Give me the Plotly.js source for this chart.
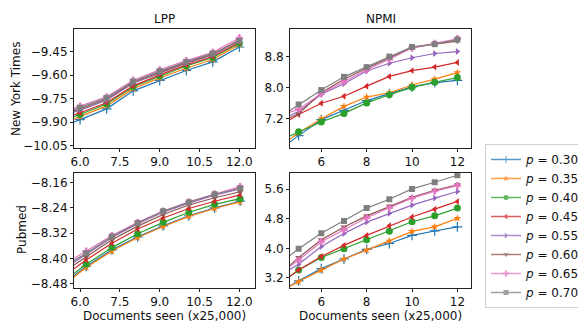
<!DOCTYPE html>
<html><head><meta charset="utf-8">
<script src="https://cdn.plot.ly/plotly-3.0.1.min.js"></script>
<style>html,body{margin:0;padding:0;background:#fff}#chart{width:578px;height:322px}</style>
</head><body><div id="chart"></div>
<script>
// ---- data ----
const pLabels = ['0.30','0.35','0.40','0.45','0.55','0.60','0.65','0.70'];
const xInt = [4,5,6,7,8,9,10,11,12];
const xPubLPP = [4.3,5.27,6.23,7.2,8.17,9.13,10.1,11.07,12.03];
const xTicksLPP = [6.0,7.5,9.0,10.5,12.0];
const xTicksNPMI = [6,8,10,12];
const yTicksNytLPP = [-9.45,-9.60,-9.75,-9.90,-10.05];
const yTicksNytNPMI = [7.2,8.0,8.8];
const yTicksPubLPP = [-8.16,-8.24,-8.32,-8.40,-8.48];
const yTicksPubNPMI = [3.2,4.0,4.8,5.6];

// New York Times, LPP (rows follow pLabels)
const nytLPP = [
  [-10.03,-9.95,-9.884,-9.815,-9.700,-9.633,-9.570,-9.515,-9.420],
  [-10.01,-9.93,-9.865,-9.796,-9.686,-9.618,-9.556,-9.500,-9.405],
  [-9.99,-9.91,-9.851,-9.784,-9.674,-9.605,-9.541,-9.487,-9.396],
  [-9.98,-9.90,-9.840,-9.776,-9.668,-9.598,-9.534,-9.481,-9.390],
  [-9.96,-9.88,-9.823,-9.760,-9.651,-9.586,-9.524,-9.470,-9.378],
  [-9.95,-9.87,-9.816,-9.752,-9.645,-9.580,-9.520,-9.466,-9.375],
  [-9.93,-9.85,-9.798,-9.738,-9.632,-9.566,-9.507,-9.454,-9.362],
  [-9.94,-9.86,-9.807,-9.745,-9.640,-9.574,-9.515,-9.461,-9.382]
];
// New York Times, NPMI
const nytNPMI = [
  [6.35,6.77,7.18,7.42,7.67,7.85,8.02,8.13,8.19],
  [6.41,6.84,7.20,7.52,7.76,7.87,8.07,8.22,8.39],
  [6.60,6.87,7.12,7.34,7.61,7.82,8.01,8.14,8.26],
  [6.97,7.31,7.60,7.78,8.04,8.29,8.44,8.53,8.65],
  [7.14,7.38,7.83,8.10,8.43,8.63,8.77,8.88,8.93],
  [7.07,7.33,7.87,8.22,8.50,8.77,9.03,9.12,9.20],
  [7.27,7.44,7.85,8.16,8.46,8.73,9.02,9.14,9.26],
  [7.18,7.57,7.94,8.28,8.53,8.80,9.05,9.12,9.24]
];
// Pubmed, LPP
const pubLPP = [
  [-8.58,-8.488,-8.425,-8.373,-8.332,-8.297,-8.265,-8.240,-8.219],
  [-8.59,-8.492,-8.429,-8.377,-8.334,-8.299,-8.267,-8.242,-8.221],
  [-8.57,-8.480,-8.419,-8.366,-8.322,-8.286,-8.254,-8.229,-8.211],
  [-8.55,-8.463,-8.405,-8.352,-8.307,-8.272,-8.242,-8.219,-8.199],
  [-8.52,-8.440,-8.387,-8.334,-8.290,-8.254,-8.225,-8.200,-8.180],
  [-8.53,-8.450,-8.395,-8.341,-8.298,-8.261,-8.231,-8.208,-8.189],
  [-8.50,-8.425,-8.377,-8.328,-8.286,-8.250,-8.221,-8.196,-8.173],
  [-8.51,-8.432,-8.384,-8.331,-8.288,-8.251,-8.222,-8.197,-8.178]
];
// Pubmed, NPMI
const pubNPMI = [
  [2.76,3.12,3.45,3.71,3.97,4.13,4.35,4.47,4.58],
  [2.76,3.10,3.41,3.71,3.95,4.20,4.46,4.58,4.81],
  [2.95,3.41,3.75,3.99,4.23,4.46,4.72,4.88,5.09],
  [2.98,3.41,3.78,4.08,4.35,4.61,4.85,5.06,5.27],
  [3.21,3.57,4.05,4.40,4.71,4.95,5.17,5.36,5.54],
  [3.20,3.75,4.23,4.58,4.88,5.14,5.38,5.57,5.72],
  [3.25,3.68,4.18,4.50,4.83,5.10,5.36,5.55,5.70],
  [3.51,3.99,4.41,4.74,5.09,5.33,5.61,5.79,5.98]
];

// ---- styling ----
const colors = ['#1f77b4','#ff7f0e','#2ca02c','#d62728','#9467bd','#8c564b','#e377c2','#7f7f7f'];
const symbols = ['cross-thin-open','star','circle','triangle-left','triangle-right','triangle-down','cross','square'];
const sizes = [7,6,7,6,6,6,6,6];
const FONT = 'DejaVu Sans, sans-serif';
const W = 578, H = 322;
const px = v => v / W;
const py = v => 1 - v / H;

const panels = [
  {data: nytLPP, x: xInt, xa: 'x', ya: 'y'},
  {data: nytNPMI, x: xInt, xa: 'x2', ya: 'y2'},
  {data: pubLPP, x: xPubLPP, xa: 'x3', ya: 'y3'},
  {data: pubNPMI, x: xInt, xa: 'x4', ya: 'y4'}
];

const traces = [];
panels.forEach(pn => {
  pn.data.forEach((ys, i) => {
    traces.push({
      type: 'scatter', mode: 'lines+markers',
      x: pn.x, y: ys, xaxis: pn.xa, yaxis: pn.ya,
      name: '<i>p</i> = ' + pLabels[i], showlegend: false,
      line: {color: colors[i], width: 1.2},
      marker: {symbol: symbols[i], size: sizes[i], color: colors[i],
               line: {color: colors[i], width: i === 0 ? 1.2 : 0}},
      hoverinfo: 'skip'
    });
  });
});
// legend entries (smaller markers, like the reference legend)
pLabels.forEach((p, i) => {
  traces.push({
    type: 'scatter', mode: 'lines+markers', x: [null], y: [null],
    xaxis: 'x', yaxis: 'y', name: '<i>p</i> = ' + p, showlegend: true,
    line: {color: colors[i], width: 1.5},
    marker: {symbol: symbols[i], size: 5, color: colors[i],
             line: {color: colors[i], width: i === 0 ? 1 : 0}},
    opacity: 0.75, hoverinfo: 'skip'
  });
});

const axBase = {
  showline: true, mirror: true, linecolor: '#222', linewidth: 1,
  ticks: 'outside', ticklen: 3, tickwidth: 1, tickcolor: '#222',
  showgrid: false, zeroline: false, fixedrange: true,
  tickfont: {family: FONT, size: 12, color: '#111'}
};
const colL = [px(74), px(255)], colR = [px(290), px(471)];
const rowT = [py(148), py(29)], rowB = [py(288), py(172.5)];

const ann = (text, x, y, angle) => ({
  text: text, x: x, y: y, xref: 'paper', yref: 'paper', showarrow: false,
  xanchor: 'center', yanchor: 'middle', textangle: angle || 0,
  font: {family: FONT, size: 12, color: '#111'}
});

const layout = {
  width: W, height: H, paper_bgcolor: '#fff', plot_bgcolor: '#fff',
  margin: {l: 0, r: 0, t: 0, b: 0, autoexpand: false},
  font: {family: FONT, size: 12, color: '#111'},
  xaxis: Object.assign({}, axBase, {domain: colL, anchor: 'y', range: [5.77, 12.59], tickvals: xTicksLPP, tickformat: '.1f'}),
  yaxis: Object.assign({}, axBase, {domain: rowT, anchor: 'x', range: [-10.065, -9.305], tickvals: yTicksNytLPP, tickformat: '.2f'}),
  xaxis2: Object.assign({}, axBase, {domain: colR, anchor: 'y2', range: [4.62, 12.6], tickvals: xTicksNPMI, tickformat: 'd'}),
  yaxis2: Object.assign({}, axBase, {domain: rowT, anchor: 'x2', range: [6.45, 9.51], tickvals: yTicksNytNPMI, tickformat: '.1f'}),
  xaxis3: Object.assign({}, axBase, {domain: colL, anchor: 'y3', range: [5.77, 12.59], tickvals: xTicksLPP, tickformat: '.1f'}),
  yaxis3: Object.assign({}, axBase, {domain: rowB, anchor: 'x3', range: [-8.494, -8.128], tickvals: yTicksPubLPP, tickformat: '.2f'}),
  xaxis4: Object.assign({}, axBase, {domain: colR, anchor: 'y4', range: [4.62, 12.6], tickvals: xTicksNPMI, tickformat: 'd'}),
  yaxis4: Object.assign({}, axBase, {domain: rowB, anchor: 'x4', range: [2.925, 6.054], tickvals: yTicksPubNPMI, tickformat: '.1f'}),
  legend: {
    x: px(485), y: py(144), xanchor: 'left', yanchor: 'top',
    bgcolor: '#fff', bordercolor: '#d0d0d0', borderwidth: 1,
    font: {family: FONT, size: 12, color: '#111'}, itemclick: false, itemdoubleclick: false
  },
  annotations: [
    ann('LPP', (colL[0] + colL[1]) / 2, py(19)),
    ann('NPMI', (colR[0] + colR[1]) / 2, py(19)),
    ann('New York Times', px(16), py(89), -90),
    ann('Pubmed', px(22), py(230), -90),
    ann('Documents seen (x25,000)', (colL[0] + colL[1]) / 2, py(315.5)),
    ann('Documents seen (x25,000)', (colR[0] + colR[1]) / 2, py(315.5))
  ]
};

Plotly.newPlot('chart', traces, layout, {displayModeBar: false, staticPlot: true});
</script></body></html>
